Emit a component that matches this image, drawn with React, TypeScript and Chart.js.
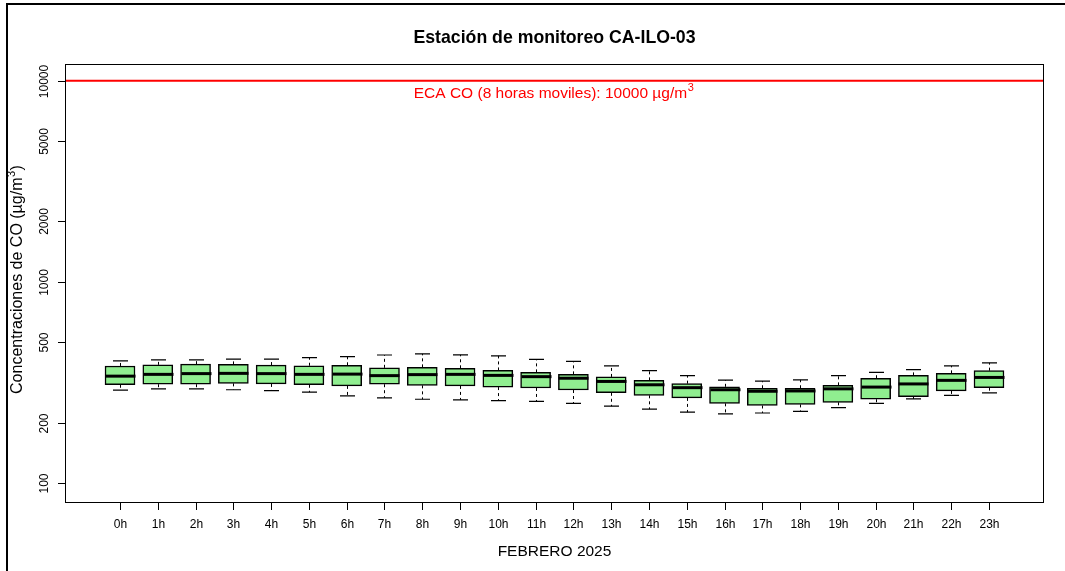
import React, { useEffect, useRef } from "react";
import { Chart, registerables } from "chart.js";

Chart.register(...registerables);

const hours = ["0h","1h","2h","3h","4h","5h","6h","7h","8h","9h","10h","11h","12h","13h","14h","15h","16h","17h","18h","19h","20h","21h","22h","23h"];
const whiskerHigh = [405,410,410,413,413,420,425,433,439,434,429,412,403,382,362,342,325,321,326,342,355,366,382,396];
const q3 = [382,387,390,389,386,383,385,374,376,372,363,355,347,337,324,312,301,296,296,306,332,343,351,362];
const median = [340,347,350,351,350,347,348,342,346,347,343,338,332,320,308,298,291,286,287,294,300,311,324,335];
const q1 = [308,310,310,313,311,308,304,310,306,304,300,297,290,281,273,265,249,243,246,252,261,269,287,298];
const whiskerLow = [290,294,294,291,288,283,271,265,261,259,257,255,249,241,233,225,221,223,227,237,249,262,273,281];
const yTicks = [100, 200, 500, 1000, 2000, 5000, 10000];
const ecaLimit = 10000;
const titleText = "Estación de monitoreo CA-ILO-03";
const xTitleText = "FEBRERO 2025";
const yTitleMain = "Concentraciones de CO (µg/m";
const yTitleSup = "3";
const yTitleEnd = ")";
const ecaMain = "ECA CO (8 horas moviles): 10000 µg/m";
const ecaSup = "3";

const FONT = "'Liberation Sans', Arial, sans-serif";

const customDraw = {
  id: "customDraw",
  beforeDraw(chart: any) {
    const ctx = chart.ctx;
    ctx.save();
    ctx.fillStyle = "#ffffff";
    ctx.fillRect(0, 0, chart.width, chart.height);
    ctx.fillStyle = "#000000";
    ctx.fillRect(6, 3, chart.width - 6, 2);
    ctx.fillRect(6, 3, 2, chart.height - 3);
    ctx.restore();
  },
  afterDatasetsDraw(chart: any) {
    const ctx = chart.ctx;
    const xs = chart.scales.x;
    const ys = chart.scales.y;
    const area = chart.chartArea;
    const boxW = 30;
    const capW = 15;
    ctx.save();
    // whiskers
    for (let i = 0; i < hours.length; i++) {
      const x = Math.round(xs.getPixelForValue(i)) + 0.5;
      const yHi = ys.getPixelForValue(whiskerHigh[i]);
      const yQ3 = ys.getPixelForValue(q3[i]);
      const yQ1 = ys.getPixelForValue(q1[i]);
      const yLo = ys.getPixelForValue(whiskerLow[i]);
      ctx.strokeStyle = "#000";
      ctx.lineWidth = 1;
      ctx.setLineDash([3, 3]);
      ctx.beginPath();
      ctx.moveTo(x, yQ3);
      ctx.lineTo(x, yHi);
      ctx.moveTo(x, yQ1);
      ctx.lineTo(x, yLo);
      ctx.stroke();
      ctx.setLineDash([]);
      ctx.lineWidth = 1.2;
      ctx.beginPath();
      ctx.moveTo(x - capW / 2, yHi);
      ctx.lineTo(x + capW / 2, yHi);
      ctx.moveTo(x - capW / 2, yLo);
      ctx.lineTo(x + capW / 2, yLo);
      ctx.stroke();
      // median
      const yMed = ys.getPixelForValue(median[i]);
      ctx.lineWidth = 3;
      ctx.beginPath();
      ctx.moveTo(x - boxW / 2, yMed);
      ctx.lineTo(x + boxW / 2, yMed);
      ctx.stroke();
    }
    // ECA line
    const yEca = ys.getPixelForValue(ecaLimit);
    ctx.strokeStyle = "#ff0000";
    ctx.lineWidth = 2;
    ctx.beginPath();
    ctx.moveTo(area.left, yEca);
    ctx.lineTo(area.right, yEca);
    ctx.stroke();
    // ECA label
    ctx.fillStyle = "#ff0000";
    ctx.font = `15.5px ${FONT}`;
    const wMain = ctx.measureText(ecaMain).width;
    ctx.font = `11px ${FONT}`;
    const wSup = ctx.measureText(ecaSup).width;
    const cx = (area.left + area.right) / 2 - 1;
    const startX = cx - (wMain + wSup) / 2;
    ctx.textAlign = "left";
    ctx.textBaseline = "alphabetic";
    ctx.font = `15.5px ${FONT}`;
    ctx.fillText(ecaMain, startX, yEca + 17);
    ctx.font = `11px ${FONT}`;
    ctx.fillText(ecaSup, startX + wMain + 0.5, yEca + 10);

    // plot box
    ctx.strokeStyle = "#000";
    ctx.lineWidth = 1;
    ctx.strokeRect(Math.round(area.left) + 0.5, Math.round(area.top) + 0.5, Math.round(area.right - area.left) - 1, Math.round(area.bottom - area.top) - 1);

    // y ticks
    ctx.fillStyle = "#000";
    ctx.font = `12px ${FONT}`;
    for (const v of yTicks) {
      const y = Math.round(ys.getPixelForValue(v)) + 0.5;
      ctx.beginPath();
      ctx.moveTo(area.left - 7, y);
      ctx.lineTo(area.left, y);
      ctx.stroke();
      ctx.save();
      ctx.translate(48, y);
      ctx.rotate(-Math.PI / 2);
      ctx.textAlign = "center";
      ctx.textBaseline = "alphabetic";
      ctx.fillText(String(v), 0, 0);
      ctx.restore();
    }
    // x ticks
    ctx.textAlign = "center";
    ctx.textBaseline = "alphabetic";
    for (let i = 0; i < hours.length; i++) {
      const x = Math.round(xs.getPixelForValue(i)) + 0.5;
      ctx.beginPath();
      ctx.moveTo(x, area.bottom);
      ctx.lineTo(x, area.bottom + 7);
      ctx.stroke();
      ctx.fillText(hours[i], x, area.bottom + 25);
    }
    // title
    ctx.font = `bold 17.7px ${FONT}`;
    ctx.fillText(titleText, (area.left + area.right) / 2, 43);
    // x title
    ctx.font = `15.5px ${FONT}`;
    ctx.fillText(xTitleText, (area.left + area.right) / 2, 556);
    // y title
    ctx.save();
    ctx.translate(22, 280);
    ctx.rotate(-Math.PI / 2);
    ctx.font = `16px ${FONT}`;
    const w1 = ctx.measureText(yTitleMain).width;
    const w3 = ctx.measureText(yTitleEnd).width;
    ctx.font = `11px ${FONT}`;
    const w2 = ctx.measureText(yTitleSup).width;
    const total = w1 + w2 + w3;
    let sx = -total / 2;
    ctx.textAlign = "left";
    ctx.font = `16px ${FONT}`;
    ctx.fillText(yTitleMain, sx, 0);
    ctx.font = `11px ${FONT}`;
    ctx.fillText(yTitleSup, sx + w1 + 0.5, -7);
    ctx.font = `16px ${FONT}`;
    ctx.fillText(yTitleEnd, sx + w1 + w2 + 1, 0);
    ctx.restore();
    ctx.restore();
  },
};

export default function App() {
  const canvasRef = useRef<HTMLCanvasElement | null>(null);
  useEffect(() => {
    if (!canvasRef.current) return;
    const chart = new Chart(canvasRef.current, {
      type: "bar",
      data: {
        datasets: [
          {
            label: "CO",
            data: hours.map((_, i) => ({ x: i, y: [q1[i], q3[i]] })) as any,
            backgroundColor: "#90EE90",
            borderColor: "#000000",
            borderWidth: 1.5,
            borderSkipped: false,
            barThickness: 30,
          },
        ],
      },
      options: {
        animation: false,
        responsive: false,
        maintainAspectRatio: false,
        devicePixelRatio: 1,
        layout: { padding: { left: 65, top: 64, right: 21, bottom: 68 } },
        plugins: {
          legend: { display: false },
          tooltip: { enabled: false },
          title: { display: false },
        },
        scales: {
          x: { type: "linear", min: -1.456, max: 24.456, display: false, offset: false },
          y: { type: "logarithmic", min: 79.6, max: 12107, display: false },
        },
      },
      plugins: [customDraw],
    });
    return () => chart.destroy();
  }, []);
  return (
    <div style={{ position: "fixed", left: 0, top: 0, width: 1065, height: 571, background: "#fff" }}>
      <canvas ref={canvasRef} width={1065} height={571} />
    </div>
  );
}
